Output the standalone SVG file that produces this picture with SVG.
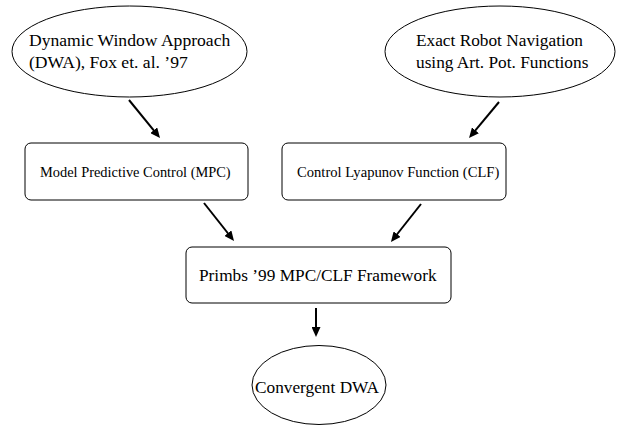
<svg xmlns="http://www.w3.org/2000/svg" width="619" height="425" viewBox="0 0 619 425">
<style>
.n{fill:#fff;stroke:#000;stroke-width:1}
.c{stroke:#000;stroke-width:2;fill:none}
</style>
<defs>
<marker id="ah" markerUnits="userSpaceOnUse" markerWidth="10" markerHeight="9" refX="3" refY="4.5" orient="auto" viewBox="0 0 10 9">
<path d="M0,0 L10,4.5 L0,9 z" fill="#000"/>
</marker>
</defs>
<rect width="619" height="425" fill="#fff"/>
<g font-family="Liberation Serif, serif" font-size="17.3" fill="#000">
<g id="dwa">
<ellipse class="n" cx="129.5" cy="51.5" rx="117.5" ry="45.5"/>
<text x="29" y="46" font-size="17.6">Dynamic Window Approach</text>
<text x="29" y="68" font-size="17.6">(DWA), Fox et. al. ’97</text>
</g>
<g id="ernav">
<ellipse class="n" cx="500" cy="51.5" rx="115" ry="45.5"/>
<text x="416" y="46">Exact Robot Navigation</text>
<text x="416" y="68">using Art. Pot. Functions</text>
</g>
<g id="mpc">
<rect class="n" x="25" y="143" width="223" height="57" rx="6"/>
<text font-size="14.4" x="40" y="177">Model Predictive Control (MPC)</text>
</g>
<g id="clf">
<rect class="n" x="282" y="143" width="224" height="57" rx="6"/>
<text font-size="14.6" x="297" y="177">Control Lyapunov Function (CLF)</text>
</g>
<g id="primbs">
<rect class="n" x="186" y="247" width="265" height="56" rx="6"/>
<text x="199" y="281">Primbs ’99 MPC/CLF Framework</text>
</g>
<g id="cdwa">
<ellipse class="n" cx="319" cy="385" rx="67" ry="39.5"/>
<text x="255" y="393">Convergent DWA</text>
</g>
</g>
<g id="connectors">
<line class="c" x1="129" y1="100" x2="155.6" y2="132.6" marker-end="url(#ah)"/>
<line class="c" x1="499" y1="102" x2="473.5" y2="132.6" marker-end="url(#ah)"/>
<line class="c" x1="204" y1="203" x2="229.7" y2="235.5" marker-end="url(#ah)"/>
<line class="c" x1="421" y1="204" x2="395.3" y2="236.5" marker-end="url(#ah)"/>
<line class="c" x1="316" y1="308" x2="316" y2="330" marker-end="url(#ah)"/>
</g>
</svg>
